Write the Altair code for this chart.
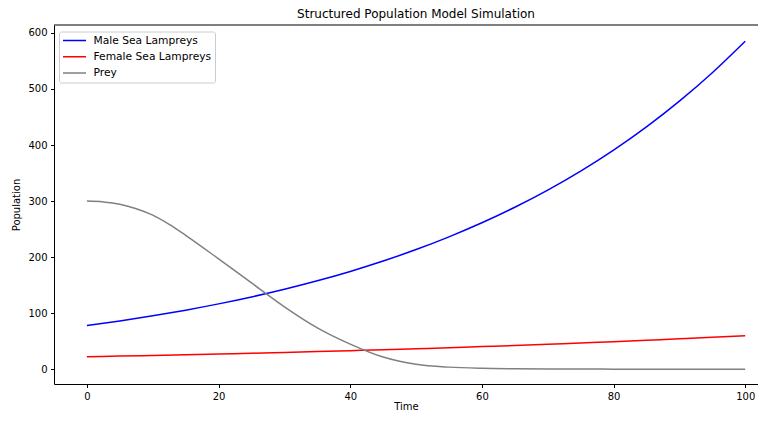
import altair as alt
import pandas as pd

# Values
time = [0, 5, 10, 15, 20, 25, 30, 35, 40, 45, 50, 55, 60, 65, 70, 75, 80, 85, 90, 95, 100]
male = [78, 86.3, 95.4, 105.5, 116.7, 129.1, 142.8, 157.9, 174.6, 193.1, 213.6,
        236.3, 261.3, 289, 319.6, 353.5, 391, 432.4, 478.2, 528.9, 585]
female = [22.5, 23.6, 24.8, 26.0, 27.4, 28.7, 30.2, 31.7, 33.3, 34.9, 36.7,
          38.5, 40.5, 42.5, 44.6, 46.9, 49.2, 51.7, 54.3, 57.0, 60.0]
prey_time = [0, 2.5, 5, 7.5, 10, 12.5, 15, 20, 25, 30, 35, 40, 45, 50,
             55, 60, 65, 70, 75, 80, 85, 90, 95, 100]
prey = [300, 298.6, 294.5, 286.5, 275, 258.5, 239, 197, 154, 111.5, 74, 45, 21.8, 9,
        3.9, 1.8, 1.0, 0.6, 0.4, 0.3, 0.2, 0.1, 0.1, 0.1]

series_names = ["Male Sea Lampreys", "Female Sea Lampreys", "Prey"]
series_colors = ["#0000ff", "#ff0000", "#808080"]
x_ticks = [0, 20, 40, 60, 80, 100]
y_ticks = [0, 100, 200, 300, 400, 500, 600]

rows = []
for name, ts, vals in zip(series_names, [time, time, prey_time], [male, female, prey]):
    for t, v in zip(ts, vals):
        rows.append({"Time": t, "Population": v, "Series": name})
df = pd.DataFrame(rows)

W, H = 704, 359

lines = alt.Chart(df).mark_line(strokeWidth=1.5, interpolate="monotone").encode(
    x=alt.X("Time:Q",
            scale=alt.Scale(domain=[-5, 101.94], nice=False, zero=False),
            axis=alt.Axis(values=x_ticks, title="Time", grid=False, titlePadding=0)),
    y=alt.Y("Population:Q",
            scale=alt.Scale(domain=[-26.2, 614.1], nice=False, zero=False),
            axis=alt.Axis(values=y_ticks, title="Population", grid=False, titlePadding=6)),
    color=alt.Color("Series:N",
                    scale=alt.Scale(domain=series_names, range=series_colors),
                    legend=alt.Legend(
                        title=None, orient="none", legendX=5, legendY=6.5,
                        symbolType="stroke", symbolSize=529, symbolStrokeWidth=1.5,
                        clipHeight=12, rowPadding=4.3, labelOffset=6.5,
                        labelFontSize=10.7, labelColor="black", labelFont="DejaVu Sans",
                        fillColor="rgba(255,255,255,0.8)", strokeColor="#cccccc",
                        padding=3, cornerRadius=2)),
)

top_rule = alt.Chart(alt.Data(values=[{}])).mark_rule(color="black", strokeWidth=1).encode(
    x=alt.value(0), x2=alt.value(W), y=alt.value(0)
)

chart = alt.layer(lines, top_rule).properties(
    width=W, height=H,
    autosize=alt.AutoSizeParams(type="none"),
    padding={"left": 46, "top": 17, "right": 0, "bottom": 29},
    title=alt.TitleParams(text="Structured Population Model Simulation", fontSize=12,
                          fontWeight="normal", color="black", offset=4, dx=10,
                          anchor="middle", font="DejaVu Sans"),
).configure(font="DejaVu Sans").configure_view(stroke="transparent").configure_axis(
    domainColor="black", domainWidth=1, tickColor="black", tickSize=3.5, tickWidth=1,
    labelFontSize=10, labelColor="black", labelPadding=3.5, labelFont="DejaVu Sans",
    titleFontSize=10, titleFontWeight="normal", titleColor="black", titleFont="DejaVu Sans",
)

chart.save("out.html", embed_options={"renderer": "svg", "actions": False})
